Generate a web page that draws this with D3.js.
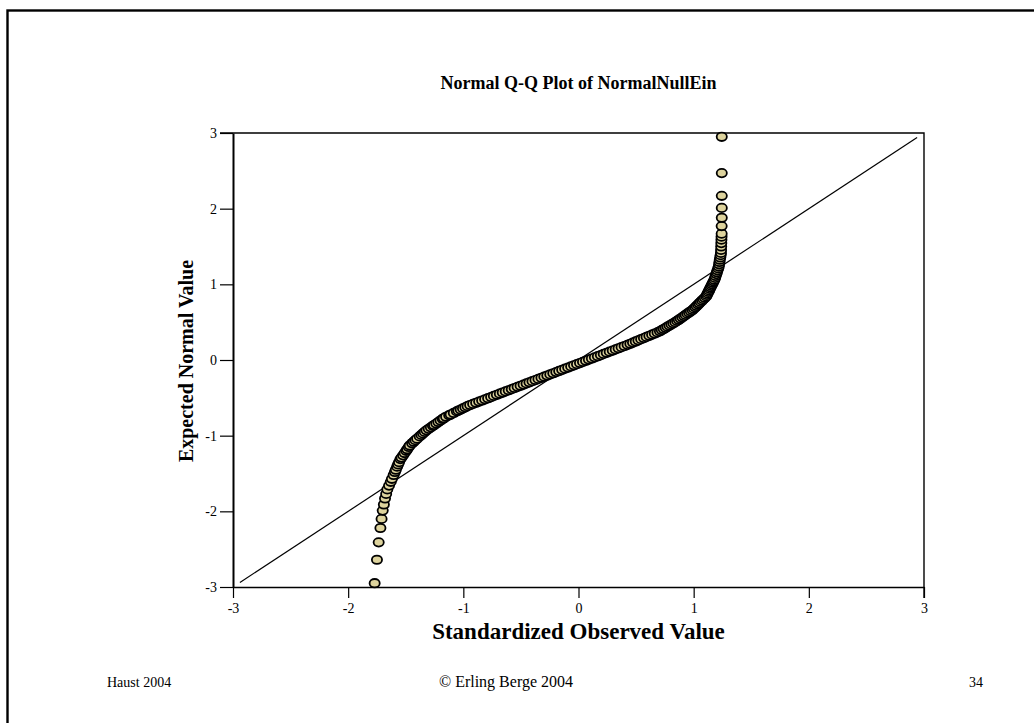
<!DOCTYPE html>
<html>
<head>
<meta charset="utf-8">
<script src="https://cdn.jsdelivr.net/npm/d3@7"></script>
<style>
  body { margin: 0; background: #fff; }
  svg { display: block; }
  text { font-family: "Liberation Serif", "Times New Roman", serif; fill: #000; }
  .axis path, .axis line { stroke: #000; }
</style>
</head>
<body>
<svg class="chart"></svg>
<script>
// observed (standardized) value of each plotted point
const observed = [
  -1.77, -1.75, -1.735, -1.72, -1.71, -1.70, -1.69, -1.68, -1.67, -1.66, -1.645, -1.63, -1.62, -1.605,
  -1.594, -1.586, -1.575, -1.567, -1.558,
  -1.546, -1.537, -1.523, -1.51, -1.496, -1.487, -1.474, -1.465,
  -1.445, -1.43, -1.416, -1.401, -1.379, -1.364, -1.35, -1.335,
  -1.32, -1.301, -1.282, -1.264, -1.254, -1.235, -1.217, -1.198, -1.179, -1.17,
  -1.15, -1.123, -1.11, -1.083, -1.056, -1.043, -1.023, -1.003, -0.983, -0.963,
  -0.941, -0.915, -0.889, -0.863, -0.837, -0.811, -0.785, -0.759,
  -0.735, -0.709, -0.683, -0.658, -0.632, -0.606, -0.580, -0.555, -0.529, -0.503,
  -0.477, -0.451, -0.426, -0.400, -0.374, -0.348, -0.322, -0.297, -0.271, -0.245,
  -0.219, -0.193, -0.168, -0.142, -0.116, -0.090, -0.064, -0.039, -0.013, 0.013,
  0.039, 0.065, 0.090, 0.116, 0.142, 0.168, 0.194, 0.219, 0.245, 0.271,
  0.297, 0.323, 0.348, 0.374, 0.400, 0.426,
  0.450, 0.473, 0.497, 0.520, 0.544, 0.568, 0.591, 0.615, 0.639, 0.662, 0.686,
  0.707, 0.723, 0.740, 0.757, 0.773, 0.790, 0.807, 0.823, 0.840,
  0.856, 0.871, 0.886, 0.901, 0.916, 0.930, 0.945, 0.960, 0.975, 0.99,
  1.002, 1.014, 1.026, 1.038, 1.049, 1.061, 1.073, 1.085, 1.097, 1.109,
  1.115, 1.121, 1.128, 1.134, 1.141, 1.147, 1.154, 1.16, 1.167, 1.173, 1.18,
  1.186, 1.191, 1.197, 1.202, 1.207, 1.213, 1.218,
  1.221, 1.224, 1.227, 1.231, 1.234, 1.237,
  1.238, 1.239, 1.24, 1.241, 1.242, 1.243,
  1.243, 1.244, 1.244, 1.244, 1.244, 1.244
]

// expected normal value of the same points
const expected = [
  -2.95, -2.64, -2.41, -2.22, -2.10, -1.99, -1.91, -1.83, -1.77, -1.71, -1.66, -1.61, -1.57, -1.52,
  -1.48, -1.45, -1.41, -1.38, -1.35,
  -1.31, -1.29, -1.26, -1.23, -1.20, -1.18, -1.15, -1.13,
  -1.10, -1.08, -1.06, -1.04, -1.01, -0.99, -0.97, -0.95,
  -0.93, -0.91, -0.89, -0.87, -0.86, -0.84, -0.82, -0.80, -0.78, -0.77,
  -0.75, -0.73, -0.72, -0.70, -0.68, -0.67, -0.655, -0.64, -0.625, -0.61,
  -0.595, -0.58, -0.565, -0.55, -0.535, -0.52, -0.505, -0.49,
  -0.475, -0.46, -0.445, -0.43, -0.415, -0.40, -0.385, -0.37, -0.355, -0.34,
  -0.325, -0.31, -0.295, -0.28, -0.265, -0.25, -0.235, -0.22, -0.205, -0.19,
  -0.175, -0.16, -0.145, -0.13, -0.115, -0.10, -0.085, -0.07, -0.055, -0.04,
  -0.025, -0.01, 0.005, 0.02, 0.035, 0.05, 0.065, 0.08, 0.095, 0.11,
  0.125, 0.14, 0.155, 0.17, 0.185, 0.20,
  0.215, 0.23, 0.245, 0.26, 0.275, 0.29, 0.305, 0.32, 0.335, 0.35, 0.365,
  0.38, 0.395, 0.41, 0.425, 0.44, 0.455, 0.47, 0.485, 0.50,
  0.516, 0.532, 0.548, 0.564, 0.58, 0.596, 0.612, 0.628, 0.644, 0.66,
  0.678, 0.696, 0.714, 0.732, 0.75, 0.768, 0.786, 0.804, 0.822, 0.84,
  0.86, 0.88, 0.90, 0.92, 0.94, 0.96, 0.98, 1.00, 1.02, 1.04, 1.06,
  1.085, 1.11, 1.135, 1.16, 1.185, 1.21, 1.235,
  1.265, 1.295, 1.325, 1.355, 1.385, 1.415,
  1.455, 1.50, 1.545, 1.59, 1.63, 1.67,
  1.77, 1.88, 2.01, 2.17, 2.47, 2.95
]

// reference line y = x, drawn over this span
const refLine = [-2.94, 2.94]

const xTicks = [-3, -2, -1, 0, 1, 2, 3]
const yTicks = [-3, -2, -1, 0, 1, 2, 3]

const title = 'Normal Q-Q Plot of NormalNullEin'
const xTitle = 'Standardized Observed Value'
const yTitle = 'Expected Normal Value'
const footer = { left: 'Haust 2004', mid: '\u00A9  Erling Berge 2004', right: '34' }

const W = 1034, H = 723
const margin = { top: 133, right: 110, bottom: 136, left: 233 }
const width = W - margin.left - margin.right,
      height = H - margin.top - margin.bottom

const svg = d3.select('.chart')
  .attr('width', W)
  .attr('height', H)

// slide frame (only left and top edges are in view)
svg.append('rect')
  .attr('x', 7.5).attr('y', 10.5)
  .attr('width', W + 20).attr('height', H + 20)
  .attr('fill', 'none')
  .attr('stroke', '#000')
  .attr('stroke-width', 2.4)

const x = d3.scaleLinear().domain([-3, 3]).range([0, width])
const y = d3.scaleLinear().domain([-3, 3]).range([height, 0])

const chart = svg.append('g')
  .attr('transform', `translate(${margin.left}, ${margin.top})`)

// box: top and right edges
chart.append('path')
  .attr('d', `M${x(-3) - 13},${y(3)}H${x(3)}V${y(-3) + 11}`)
  .attr('fill', 'none')
  .attr('stroke', '#000')
  .attr('stroke-width', 1.4)

const xAxis = d3.axisBottom(x)
  .tickValues(xTicks)
  .tickSize(11)
  .tickSizeOuter(0)
  .tickFormat(d => String(d))

const yAxis = d3.axisLeft(y)
  .tickValues(yTicks)
  .tickSize(13)
  .tickSizeOuter(0)
  .tickFormat(d => String(d))

chart.append('g')
  .attr('class', 'x axis')
  .attr('transform', `translate(0, ${height})`)
  .call(xAxis)
  .call(g => g.select('.domain').attr('stroke-width', 1.4))
  .call(g => g.selectAll('.tick line').attr('stroke-width', 1.2))
  .call(g => g.selectAll('.tick text')
    .attr('y', 16)
    .attr('font-size', 14))

chart.append('g')
  .attr('class', 'y axis')
  .call(yAxis)
  .call(g => g.select('.domain').attr('stroke-width', 2))
  .call(g => g.selectAll('.tick line').attr('stroke-width', 1.2))
  .call(g => g.selectAll('.tick text')
    .attr('x', -16)
    .attr('font-size', 14))

chart.append('line')
  .attr('x1', x(refLine[0])).attr('y1', y(refLine[0]))
  .attr('x2', x(refLine[1])).attr('y2', y(refLine[1]))
  .attr('stroke', '#000')
  .attr('stroke-width', 1.2)

const points = observed.map((v, i) => ({ obs: v, exp: expected[i] }))

chart.append('g')
  .selectAll('ellipse')
  .data(points)
  .enter()
  .append('ellipse')
  .attr('cx', d => x(d.obs))
  .attr('cy', d => y(d.exp))
  .attr('rx', 5.1)
  .attr('ry', 4.2)
  .attr('fill', '#ddd39d')
  .attr('stroke', '#000')
  .attr('stroke-width', 1.8)

chart.append('text')
  .attr('x', width / 2)
  .attr('y', -44)
  .attr('text-anchor', 'middle')
  .style('font-size', '18px')
  .style('font-weight', 'bold')
  .text(title)

chart.append('text')
  .attr('x', width / 2)
  .attr('y', height + 52)
  .attr('text-anchor', 'middle')
  .style('font-size', '23px')
  .style('font-weight', 'bold')
  .text(xTitle)

chart.append('text')
  .attr('transform', `translate(-40, ${height / 2 + 1}) rotate(-90)`)
  .attr('text-anchor', 'middle')
  .style('font-size', '20px')
  .style('font-weight', 'bold')
  .text(yTitle)

svg.append('text')
  .attr('x', 107).attr('y', 687)
  .style('font-size', '14px')
  .text(footer.left)

svg.append('text')
  .attr('x', 506).attr('y', 687)
  .attr('text-anchor', 'middle')
  .style('font-size', '16px')
  .text(footer.mid)

svg.append('text')
  .attr('x', 983).attr('y', 687)
  .attr('text-anchor', 'end')
  .style('font-size', '14px')
  .text(footer.right)
</script>
</body>
</html>
